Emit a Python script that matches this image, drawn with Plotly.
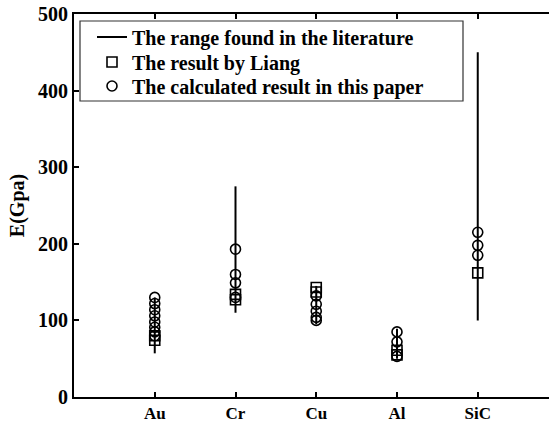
import plotly.graph_objects as go

categories = ["Au", "Cr", "Cu", "Al", "SiC"]
positions = [1, 2, 3, 4, 5]

# literature ranges (GPa)
range_low = [57, 110, 95, 50, 100]
range_high = [130, 275, 145, 89, 450]

# results by Liang (squares)
liang_cat = ["Au", "Au", "Cr", "Cr", "Cu", "Cu", "Al", "Al", "SiC"]
liang_val = [74, 80, 127, 134, 143, 137, 55, 61, 162]

# calculated results in this paper (circles)
calc_cat = (["Au"] * 8 + ["Cr"] * 4 + ["Cu"] * 5 + ["Al"] * 3 + ["SiC"] * 3)
calc_val = [130, 122, 114, 106, 98, 91, 85, 80,
            193, 160, 149, 130,
            132, 121, 112, 104, 100,
            85, 72, 53,
            215, 198, 185]

yticks = [0, 100, 200, 300, 400, 500]

pos = dict(zip(categories, positions))

lx, ly = [], []
for c, lo, hi in zip(categories, range_low, range_high):
    lx += [pos[c], pos[c], None]
    ly += [lo, hi, None]

FONT = "Liberation Serif"

W, H = 549, 423
L, T, B = 74, 14, 26
pw = W - L
ph = H - T - B


def py(pix):
    return (H - B - pix) / ph


fig = go.Figure()
fig.add_trace(go.Scatter(x=lx, y=ly, mode="lines", line=dict(color="black", width=2),
                         name="<b>The range found in the literature</b>", legend="legend"))
fig.add_trace(go.Scatter(x=[pos[c] for c in liang_cat], y=liang_val, mode="markers",
                         marker=dict(symbol="square-open", size=10, color="black",
                                     line=dict(width=1.6, color="black")),
                         name="<b>The result by Liang</b>", legend="legend2"))
fig.add_trace(go.Scatter(x=[pos[c] for c in calc_cat], y=calc_val, mode="markers",
                         marker=dict(symbol="circle-open", size=10, color="black",
                                     line=dict(width=1.6, color="black")),
                         name="<b>The calculated result in this paper</b>", legend="legend3"))

fig.add_shape(type="rect", xref="paper", yref="paper",
              x0=(80 - L) / pw, x1=(463 - L) / pw,
              y0=py(101), y1=py(21),
              line=dict(color="#333333", width=1.2), fillcolor="white", layer="below")

leg_common = dict(xanchor="left", yanchor="middle", bgcolor="rgba(0,0,0,0)", borderwidth=0,
                  font=dict(family=FONT, size=20, color="black"), itemwidth=30)

fig.update_layout(
    width=W, height=H,
    margin=dict(l=L, r=0, t=T, b=B, pad=0),
    paper_bgcolor="white", plot_bgcolor="white",
    font=dict(family=FONT, size=20, color="black"),
    showlegend=True,
    legend=dict(x=(92 - L) / pw, y=py(37), **leg_common),
    legend2=dict(x=(92 - L) / pw, y=py(62), **leg_common),
    legend3=dict(x=(92 - L) / pw, y=py(86), **leg_common),
    xaxis=dict(range=[0, pw / 80.75], tickvals=positions,
               ticktext=["<b>%s</b>" % c for c in categories],
               tickfont=dict(family=FONT, size=17, color="black"),
               showline=True, linecolor="black", linewidth=2, mirror="ticks",
               ticks="inside", ticklen=5, tickwidth=1.5, tickcolor="black",
               showgrid=False, zeroline=False, automargin=False),
    yaxis=dict(range=[0, 500], tickvals=yticks,
               ticktext=["<b>%d</b>" % v for v in yticks],
               tickfont=dict(family=FONT, size=20, color="black"),
               showline=True, linecolor="black", linewidth=2, mirror=False,
               ticks="inside", ticklen=5, tickwidth=1.5, tickcolor="black",
               showgrid=False, zeroline=False, automargin=False,
               title=dict(text="<b>E(Gpa)</b>", standoff=8,
                          font=dict(family=FONT, size=20, color="black"))),
)

fig.write_html("out.html", config={"displayModeBar": False},
               post_script="document.body.style.margin='0';document.body.style.overflow='hidden';")
